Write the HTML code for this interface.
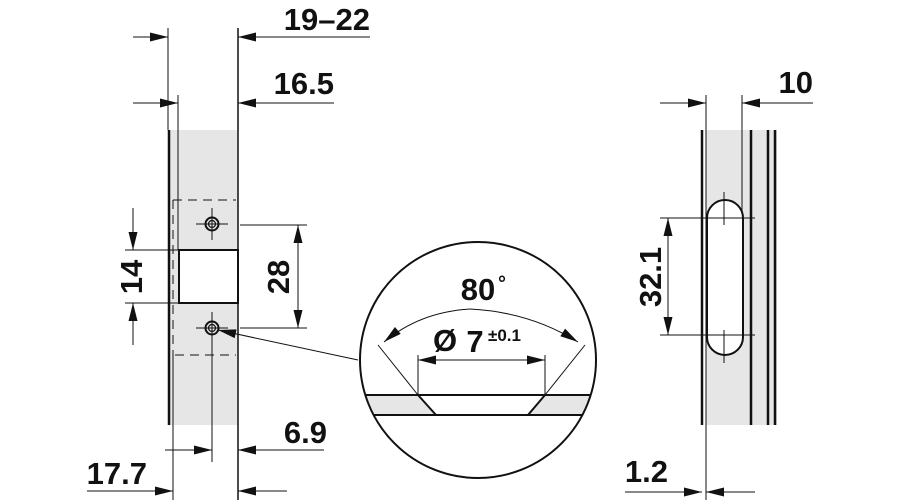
<!DOCTYPE html>
<html><head><meta charset="utf-8"><style>
html,body{margin:0;padding:0;background:#fff;}
svg{display:block;}
text{font-family:"Liberation Sans",sans-serif;font-weight:bold;fill:#111;}
</style></head><body>
<svg width="900" height="500" viewBox="0 0 900 500" xmlns="http://www.w3.org/2000/svg">
<defs>
<marker id="a" viewBox="0 0 20 10" refX="20" refY="5" markerWidth="20" markerHeight="9" markerUnits="userSpaceOnUse" orient="auto"><path d="M0,0 L20,5 L0,10 Z" fill="#111"/></marker>
</defs>
<g stroke="#111" fill="none">
<rect x="169" y="130" width="69" height="295" fill="#e6e6e6" stroke="none"/>
<line x1="169" y1="130" x2="169" y2="425" stroke-width="2.5"/>
<line x1="168" y1="28" x2="168" y2="130" stroke-width="1"/>
<line x1="238" y1="28" x2="238" y2="500" stroke-width="1.5"/>
<line x1="178" y1="95" x2="178" y2="250" stroke-width="1"/>
<line x1="173" y1="355" x2="173" y2="500" stroke-width="1"/>
<path d="M173,200 H236 M173,200 V355 M175,355 H236" stroke-dasharray="9,6" stroke-width="1"/>
<rect x="179" y="250" width="59" height="53" fill="#fff" stroke-width="2"/>
<g stroke-width="1">
<line x1="196" y1="224" x2="228" y2="224"/><line x1="212" y1="208" x2="212" y2="240"/>
<line x1="196" y1="328" x2="228" y2="328"/><line x1="212" y1="312" x2="212" y2="358"/>
<line x1="212" y1="355" x2="212" y2="462"/>
</g>
<circle cx="212" cy="224" r="6.5" stroke-width="2"/><circle cx="212" cy="224" r="3.5" stroke-width="1.2"/>
<circle cx="212" cy="328" r="6.5" stroke-width="2"/><circle cx="212" cy="328" r="3.5" stroke-width="1.2"/>
<g stroke-width="1">
<line x1="125" y1="250" x2="179" y2="250"/><line x1="125" y1="303" x2="179" y2="303"/>
<line x1="133" y1="208" x2="133" y2="250" marker-end="url(#a)"/>
<line x1="133" y1="345" x2="133" y2="303" marker-end="url(#a)"/>
<line x1="240" y1="225" x2="307" y2="225"/><line x1="240" y1="328" x2="307" y2="328"/>
<line x1="298" y1="276" x2="298" y2="225" marker-end="url(#a)"/>
<line x1="298" y1="276" x2="298" y2="328" marker-end="url(#a)"/>
<line x1="133" y1="37" x2="168" y2="37" marker-end="url(#a)"/>
<line x1="370" y1="37" x2="238" y2="37" marker-end="url(#a)"/>
<line x1="133" y1="103" x2="178" y2="103" marker-end="url(#a)"/>
<line x1="334" y1="103" x2="238" y2="103" marker-end="url(#a)"/>
<line x1="165" y1="450" x2="212" y2="450" marker-end="url(#a)"/>
<line x1="324" y1="450" x2="238" y2="450" marker-end="url(#a)"/>
<line x1="87" y1="491" x2="173" y2="491" marker-end="url(#a)"/>
<line x1="287" y1="491" x2="238" y2="491" marker-end="url(#a)"/>
<line x1="358" y1="360" x2="218" y2="330" marker-end="url(#a)"/>
</g>
<clipPath id="c"><circle cx="478" cy="360" r="118"/></clipPath>
<g clip-path="url(#c)">
<polygon points="350,395 418,395 436,415 350,415" fill="#e6e6e6" stroke="none"/>
<polygon points="545,395 610,395 610,415 528,415" fill="#e6e6e6" stroke="none"/>
<line x1="350" y1="395" x2="610" y2="395" stroke-width="2"/>
<line x1="350" y1="415" x2="610" y2="415" stroke-width="2"/>
<line x1="418" y1="395" x2="436" y2="415" stroke-width="2"/>
<line x1="545" y1="395" x2="528" y2="415" stroke-width="2"/>
</g>
<circle cx="478" cy="360" r="118" stroke-width="2"/>
<g stroke-width="1">
<line x1="378" y1="345" x2="418" y2="395"/>
<line x1="585" y1="345" x2="545" y2="395"/>
<line x1="418" y1="355" x2="418" y2="395"/>
<line x1="545" y1="355" x2="545" y2="395"/>
<line x1="480" y1="360" x2="418" y2="360" marker-end="url(#a)"/>
<line x1="480" y1="360" x2="545" y2="360" marker-end="url(#a)"/>
<path d="M470,309 Q420,312 384,342" marker-end="url(#a)"/>
<path d="M470,309 Q530,312 578,342" marker-end="url(#a)"/>
</g>
<rect x="706" y="130" width="71" height="295" fill="#e6e6e6" stroke="none"/>
<line x1="702" y1="130" x2="702" y2="425" stroke-width="2.5"/>
<line x1="706" y1="95" x2="706" y2="500" stroke-width="1"/>
<line x1="751" y1="130" x2="751" y2="425" stroke-width="2.5"/>
<line x1="768" y1="130" x2="768" y2="425" stroke-width="2.5"/>
<line x1="775" y1="130" x2="775" y2="425" stroke-width="2.5"/>
<line x1="742" y1="95" x2="742" y2="220" stroke-width="1"/>
<rect x="707" y="200" width="36" height="155" rx="18" ry="18" fill="#fff" stroke-width="2"/>
<g stroke-width="1">
<line x1="724" y1="192" x2="724" y2="225"/><line x1="724" y1="330" x2="724" y2="363"/>
<line x1="660" y1="218" x2="755" y2="218"/><line x1="660" y1="335" x2="755" y2="335"/>
<line x1="668" y1="276" x2="668" y2="218" marker-end="url(#a)"/>
<line x1="668" y1="276" x2="668" y2="335" marker-end="url(#a)"/>
<line x1="660" y1="103" x2="706" y2="103" marker-end="url(#a)"/>
<line x1="813" y1="103" x2="742" y2="103" marker-end="url(#a)"/>
<line x1="625" y1="492" x2="702" y2="492" marker-end="url(#a)"/>
<line x1="755" y1="492" x2="706" y2="492" marker-end="url(#a)"/>
</g>
</g>
<g font-size="31">
<text x="370" y="30" text-anchor="end">19–22</text>
<text x="334" y="94" text-anchor="end">16.5</text>
<text x="327" y="443" text-anchor="end">6.9</text>
<text x="147" y="484" text-anchor="end">17.7</text>
<text x="813" y="93" text-anchor="end">10</text>
<text x="668" y="482" text-anchor="end">1.2</text>
<text transform="translate(142,277) rotate(-90)" text-anchor="middle">14</text>
<text transform="translate(289,277) rotate(-90)" text-anchor="middle">28</text>
<text transform="translate(661,277) rotate(-90)" text-anchor="middle">32.1</text>
<text x="478" y="300" text-anchor="middle">80</text>
<text x="445" y="351" text-anchor="middle">Ø</text>
<text x="475" y="352" text-anchor="middle">7</text>
</g>
<text x="498" y="290" font-size="20" font-weight="normal">°</text>
<text x="488" y="341" font-size="17">±0.1</text>
</svg>
</body></html>
